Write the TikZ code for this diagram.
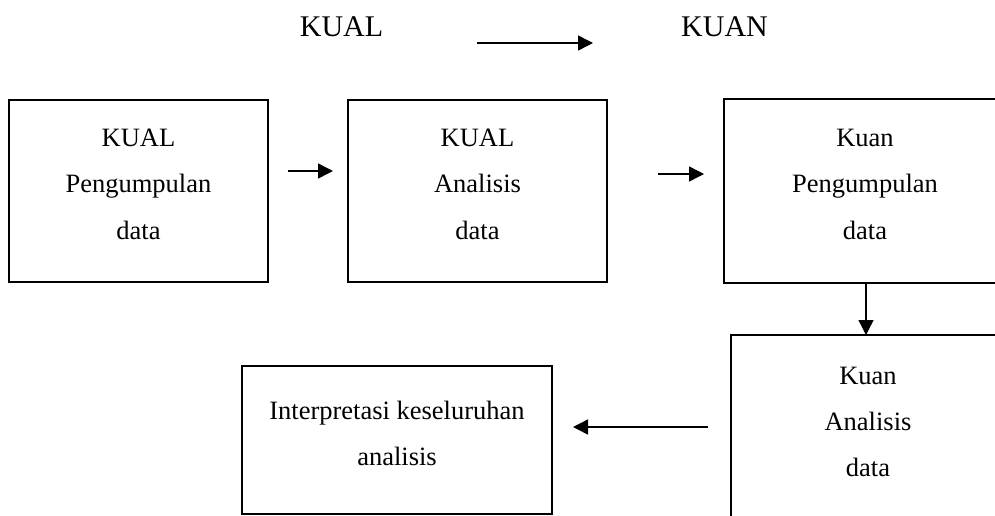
\documentclass[tikz,border=0pt]{standalone}
\usepackage{fontspec}
\setmainfont{Liberation Serif}
\usetikzlibrary{arrows.meta}
\tikzset{
  boxx/.style={draw, line width=2pt, inner sep=0pt},
  lbl/.style={inner sep=0pt, anchor=base, font=\fontsize{26.5}{30}\selectfont},
  ttl/.style={inner sep=0pt, anchor=base, font=\fontsize{30}{34}\selectfont},
  arr/.style={line width=1.4pt, -{Triangle[length=15pt,width=15pt]}},
}
\begin{document}
\begin{tikzpicture}[x=1pt,y=-1pt]
\useasboundingbox (0,0) rectangle (995,515);
\clip (0,0) rectangle (995,515);
\fill[white] (0,0) rectangle (995,515);
% titles
\node[ttl] (tq) at (341.5,36) {KUAL};
\node[ttl] (tn) at (724.5,36) {KUAN};
\coordinate (ta) at (477,43);
\coordinate (tb) at (593,43);
\draw[arr, -{Triangle[length=15pt,width=15pt]}] (ta) -- (tb);
% boxes
\draw[boxx] (9,100) rectangle (268,282) node[pos=0.5] (b1) {};
\draw[boxx] (348,100) rectangle (607,282) node[pos=0.5] (b2) {};
\draw[boxx] (724,99) rectangle (1005,283) node[pos=0.5] (b3) {};
\draw[boxx] (731,335) rectangle (1005,540) node[pos=0.5] (b4) {};
\draw[boxx] (242,366) rectangle (552,514) node[pos=0.5] (b5) {};
% box anchors
\coordinate (b1e) at (268,171);
\coordinate (b2w) at (348,171);
\coordinate (b2e) at (607,174);
\coordinate (b3w) at (724,174);
\coordinate (b3s) at (866,283);
\coordinate (b4n) at (866,335);
\coordinate (b4w) at (731,427);
\coordinate (b5e) at (552,427);
% texts
\node[lbl] (l1a) at (138.5,146) {KUAL};
\node[lbl] (l1b) at (138.5,192.5) {Pengumpulan};
\node[lbl] (l1c) at (138.5,239) {data};
\node[lbl] (l2a) at (477.5,146) {KUAL};
\node[lbl] (l2b) at (477.5,192.5) {Analisis};
\node[lbl] (l2c) at (477.5,239) {data};
\node[lbl] (l3a) at (865,146) {Kuan};
\node[lbl] (l3b) at (865,192.5) {Pengumpulan};
\node[lbl] (l3c) at (865,239) {data};
\node[lbl] (l4a) at (868,384) {Kuan};
\node[lbl] (l4b) at (868,430) {Analisis};
\node[lbl] (l4c) at (868,476) {data};
\node[lbl] (l5a) at (397,419) {Interpretasi keseluruhan};
\node[lbl] (l5b) at (397,465) {analisis};
% arrows
\draw[arr] ([xshift=20pt]b1e) -- ([xshift=-15pt]b2w);
\draw[arr] ([xshift=51pt]b2e) -- ([xshift=-20pt]b3w);
\draw[arr] (b3s) -- (b4n);
\draw[arr] ([xshift=-23pt]b4w) -- ([xshift=21pt]b5e);
\end{tikzpicture}
\end{document}
